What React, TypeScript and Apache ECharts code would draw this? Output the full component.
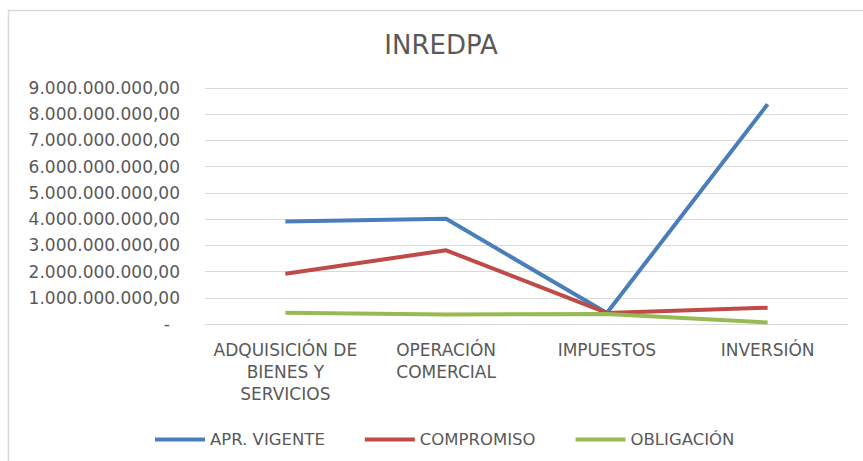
import React, { useEffect, useRef } from "react";
import * as echarts from "echarts";

const categories = ["ADQUISICIÓN DE\nBIENES Y\nSERVICIOS", "OPERACIÓN\nCOMERCIAL", "IMPUESTOS", "INVERSIÓN"];
const aprVigente = [3910000000, 4010000000, 420000000, 8380000000];
const compromiso = [1920000000, 2810000000, 420000000, 620000000];
const obligacion = [430000000, 360000000, 380000000, 60000000];
const seriesNames = ["APR. VIGENTE", "COMPROMISO", "OBLIGACIÓN"];
const colors = ["#4A7EBB", "#BE4B48", "#98B954"];

const FONT = "DejaVu Sans";

function fmt(v: number): string {
  if (v === 0) return "{dash|-}";
  const s = Math.round(v).toString().replace(/\B(?=(\d{3})+(?!\d))/g, ".");
  return s + ",00";
}

export default function App() {
  const ref = useRef<HTMLDivElement>(null);
  useEffect(() => {
    if (!ref.current) return;
    const chart = echarts.init(ref.current, undefined, { renderer: "svg" });
    const mk = (name: string, data: number[], color: string) => ({
      name,
      type: "line",
      data,
      symbol: "none",
      lineStyle: { width: 4, color },
      itemStyle: { color },
    });
    chart.setOption({
      animation: false,
      backgroundColor: "#ffffff",
      title: {
        text: "INREDPA",
        left: 441,
        textAlign: "center",
        top: 32,
        padding: 0,
        textStyle: { fontFamily: FONT, fontSize: 26, fontWeight: "normal", color: "#595959" },
      },
      graphic: [
        {
          type: "rect",
          shape: { x: 8.5, y: 10.5, width: 900, height: 500 },
          style: { fill: "none", stroke: "#d9d9d9", lineWidth: 1.5 },
          silent: true,
        },
      ],
      legend: {
        left: 150,
        top: 426,
        itemWidth: 50,
        itemHeight: 4,
        itemGap: 40,
        icon: "rect",
        textStyle: { fontFamily: FONT, fontSize: 16.5, color: "#595959" },
        data: seriesNames,
      },
      grid: { left: 205, right: 15, top: 88, bottom: 137, containLabel: false },
      xAxis: {
        type: "category",
        data: categories,
        boundaryGap: true,
        axisLine: { show: true, lineStyle: { color: "#d9d9d9", width: 1 } },
        axisTick: { show: false },
        axisLabel: {
          fontFamily: FONT,
          fontSize: 17,
          color: "#595959",
          lineHeight: 22,
          margin: 15,
          interval: 0,
        },
      },
      yAxis: {
        type: "value",
        min: 0,
        max: 9000000000,
        interval: 1000000000,
        axisLine: { show: false },
        axisTick: { show: false },
        splitLine: { show: true, lineStyle: { color: "#d9d9d9", width: 1 } },
        axisLabel: {
          fontFamily: FONT,
          fontSize: 17,
          color: "#595959",
          margin: 25,
          formatter: (v: number) => fmt(v),
          rich: {
            dash: { fontFamily: FONT, fontSize: 17, color: "#595959", padding: [0, 10, 0, 0] },
          },
        },
      },
      series: [
        mk(seriesNames[0], aprVigente, colors[0]),
        mk(seriesNames[1], compromiso, colors[1]),
        mk(seriesNames[2], obligacion, colors[2]),
      ],
    });
    return () => chart.dispose();
  }, []);
  return (
    <div
      ref={ref}
      style={{ position: "fixed", left: 0, top: 0, width: 863, height: 461, background: "#fff" }}
    />
  );
}
